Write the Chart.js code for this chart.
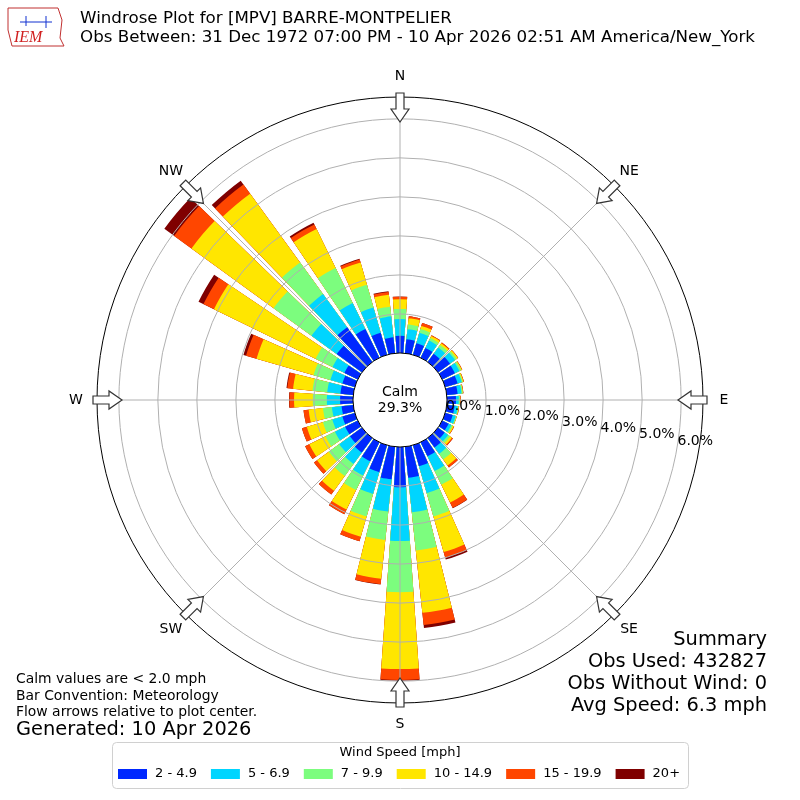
<!DOCTYPE html>
<html><head><meta charset="utf-8">
<script src="https://cdn.jsdelivr.net/npm/chart.js@4"></script>
<style>html,body{margin:0;padding:0;background:#fff}#w{width:800px;height:800px}</style>
</head><body><div id="w"><canvas id="c" width="800" height="800"></canvas></div>
<script>
// Directions (degrees, bar centres)
const directions = [0,10,20,30,40,50,60,70,80,90,100,110,120,130,140,150,160,170,180,190,200,210,220,230,240,250,260,270,280,290,300,310,320,330,340,350];
const speedBins = ['2 - 4.9','5 - 6.9','7 - 9.9','10 - 14.9','15 - 19.9','20+'];
const binColors = ['#0028ff','#00d5ff','#7cfd7e','#ffe600','#ff4600','#7f0000'];
// cumulative frequency (%) at the top of each speed bin, per direction
const cumBin1 = [0.44,0.36,0.31,0.28,0.26,0.38,0.36,0.33,0.28,0.23,0.2,0.2,0.18,0.21,0.3,0.4,0.56,0.8,1.03,0.84,0.72,0.54,0.46,0.38,0.36,0.33,0.3,0.33,0.33,0.33,0.38,0.8,1.1,0.82,0.59,0.41];
const cumBin2 = [0.87,0.62,0.59,0.49,0.46,0.54,0.49,0.44,0.38,0.3,0.28,0.28,0.26,0.32,0.5,0.82,1.28,1.69,2.41,1.67,1.3,0.95,0.82,0.72,0.65,0.6,0.55,0.67,0.67,0.65,0.72,1.6,2.15,1.56,1.26,0.95];
const cumBin3 = [1.13,0.74,0.69,0.56,0.54,0.59,0.54,0.47,0.41,0.33,0.3,0.3,0.3,0.38,0.68,1.21,1.9,2.67,3.72,2.4,1.9,1.36,1.2,1.05,0.92,0.85,0.78,1.03,1.05,1.1,1.2,2.8,3.15,2.56,1.87,1.2];
const cumBin4 = [1.38,0.9,0.77,0.62,0.59,0.63,0.56,0.49,0.42,0.34,0.31,0.31,0.33,0.44,0.87,1.72,2.85,4.28,5.69,3.4,2.44,1.92,1.67,1.42,1.38,1.28,1.15,1.51,1.55,2.62,4.1,5.4,5.33,3.67,2.46,1.51];
const cumBin5 = [1.44,0.95,0.85,0.64,0.62,0.64,0.57,0.5,0.43,0.35,0.32,0.31,0.34,0.47,0.93,1.87,3.0,4.59,5.97,3.54,2.56,2.05,1.79,1.52,1.5,1.41,1.28,1.63,1.7,2.9,4.4,5.95,5.62,3.8,2.54,1.58];
const cumBin6 = [1.45,0.95,0.85,0.64,0.62,0.64,0.57,0.5,0.43,0.35,0.32,0.31,0.34,0.47,0.93,1.88,3.05,4.67,5.99,3.55,2.56,2.05,1.79,1.52,1.5,1.41,1.28,1.64,1.72,2.97,4.54,6.26,5.74,3.85,2.56,1.6];
const ringTicks = [0,1,2,3,4,5,6];
const compass = [['N',0],['NE',45],['E',90],['SE',135],['S',180],['SW',225],['W',270],['NW',315]];
const calmText = ['Calm','29.3%'];

const cums = [cumBin1,cumBin2,cumBin3,cumBin4,cumBin5,cumBin6];
const labels = []; directions.forEach(d=>{labels.push(d+'°');labels.push('');});
const datasets = cums.map((arr,k)=>{
  const data=[]; arr.forEach(v=>{data.push(v);data.push(0);});
  return {label:speedBins[k],data,
    backgroundColor:ctx=>ctx.dataIndex%2===0?binColors[k]:'rgba(0,0,0,0)',
    borderWidth:0,
    angle:ctx=>ctx.dataIndex%2===0?8:2};
});
const F='"DejaVu Sans", sans-serif';
const deco={id:'deco',
 afterDatasetsDraw(chart){
  const ctx=chart.ctx, s=chart.scales.r, cx=s.xCenter, cy=s.yCenter;
  const R=v=>s.getDistanceFromCenterForValue(v);
  const r0=R(0), rOut=R(s.max);
  ctx.save();
  ctx.strokeStyle='#b0b0b0'; ctx.lineWidth=1;
  ringTicks.forEach(v=>{if(v>0){ctx.beginPath();ctx.arc(cx,cy,R(v),0,2*Math.PI);ctx.stroke();}});
  compass.forEach(([n,a])=>{const t=(a-90)*Math.PI/180;ctx.beginPath();
    ctx.moveTo(cx+r0*Math.cos(t),cy+r0*Math.sin(t));ctx.lineTo(cx+rOut*Math.cos(t),cy+rOut*Math.sin(t));ctx.stroke();});
  ctx.beginPath();ctx.arc(cx,cy,r0,0,2*Math.PI);ctx.fillStyle='#fff';ctx.fill();
  ctx.strokeStyle='#000';ctx.lineWidth=1;ctx.stroke();
  ctx.beginPath();ctx.arc(cx,cy,rOut,0,2*Math.PI);ctx.stroke();
  ctx.fillStyle='#000';ctx.font='14px '+F;ctx.textAlign='center';ctx.textBaseline='middle';
  ctx.fillText(calmText[0],cx,cy-8);ctx.fillText(calmText[1],cx,cy+8);
  ringTicks.forEach(v=>{const t=(6+0.33*v)*Math.PI/180, rr=R(v)+17;
    ctx.fillText(v.toFixed(1)+'%',cx+rr*Math.cos(t),cy+rr*Math.sin(t));});
  ctx.font='14px '+F;
  compass.forEach(([n,a])=>{const t=(a-90)*Math.PI/180;
    ctx.fillStyle='#000';ctx.fillText(n,cx+(rOut+21)*Math.cos(t),cy+(rOut+21)*Math.sin(t));
    ctx.save();ctx.translate(cx+rOut*Math.cos(t),cy+rOut*Math.sin(t));ctx.rotate(t);
    ctx.beginPath();ctx.moveTo(4,-4);ctx.lineTo(-12,-4);ctx.lineTo(-12,-9);ctx.lineTo(-25,0);
    ctx.lineTo(-12,9);ctx.lineTo(-12,4);ctx.lineTo(4,4);ctx.closePath();
    ctx.fillStyle='#fff';ctx.fill();ctx.strokeStyle='#333';ctx.lineWidth=1.2;ctx.stroke();ctx.restore();});
  ctx.restore();
 },
 afterDraw(chart){
  const ctx=chart.ctx; ctx.save(); ctx.fillStyle='#000';ctx.textBaseline='middle';
  ctx.font='16.7px '+F;ctx.textAlign='left';
  ctx.fillText('Windrose Plot for [MPV] BARRE-MONTPELIER',80,19);
  ctx.fillText('Obs Between: 31 Dec 1972 07:00 PM - 10 Apr 2026 02:51 AM America/New_York',80,38);
  ctx.strokeStyle='#c03030';ctx.lineWidth=1;ctx.beginPath();
  ctx.moveTo(8,8);ctx.lineTo(58,8);ctx.lineTo(62,20);ctx.lineTo(60,38);ctx.lineTo(64,46);ctx.lineTo(12,46);ctx.lineTo(8,30);ctx.closePath();ctx.stroke();
  ctx.strokeStyle='#1030d0';ctx.beginPath();ctx.moveTo(20,22);ctx.lineTo(52,22);ctx.moveTo(26,16);ctx.lineTo(26,26);ctx.moveTo(46,16);ctx.lineTo(46,28);ctx.stroke();
  ctx.fillStyle='#d02020';ctx.font='italic 16px "Liberation Serif", serif';ctx.fillText('IEM',14,38);
  ctx.fillStyle='#000';ctx.font='13.9px '+F;
  ctx.fillText('Calm values are < 2.0 mph',16,679);
  ctx.fillText('Bar Convention: Meteorology',16,696);
  ctx.fillText('Flow arrows relative to plot center.',16,712);
  ctx.font='19.4px '+F;ctx.fillText('Generated: 10 Apr 2026',16,730);
  ctx.textAlign='right';
  ['Summary','Obs Used: 432827','Obs Without Wind: 0','Avg Speed: 6.3 mph'].forEach((t,i)=>ctx.fillText(t,767,640+i*22));
  ctx.strokeStyle='#d0d0d0';ctx.lineWidth=1;ctx.beginPath();ctx.roundRect(112.5,742.5,576,46,4);ctx.stroke();
  ctx.fillStyle='#000';ctx.textAlign='center';ctx.font='13px '+F;ctx.fillText('Wind Speed [mph]',400,753);
  ctx.textAlign='left';let x=118;
  speedBins.forEach((b,i)=>{ctx.fillStyle=binColors[i];ctx.fillRect(x,769,29,10);
    ctx.fillStyle='#000';ctx.fillText(b,x+37,774);x+=37+ctx.measureText(b).width+14;});
  ctx.restore();
 }};
new Chart(document.getElementById('c'),{type:'polarArea',
 data:{labels,datasets},
 options:{responsive:false,animation:false,
  layout:{padding:{left:97,right:97,top:97,bottom:97}},
  plugins:{legend:{display:false},tooltip:{enabled:false}},
  scales:{r:{min:-1.205,max:6.56,startAngle:-4,ticks:{display:false},grid:{display:false},angleLines:{display:false},pointLabels:{display:false}}}},
 plugins:[deco]});
</script></body></html>
